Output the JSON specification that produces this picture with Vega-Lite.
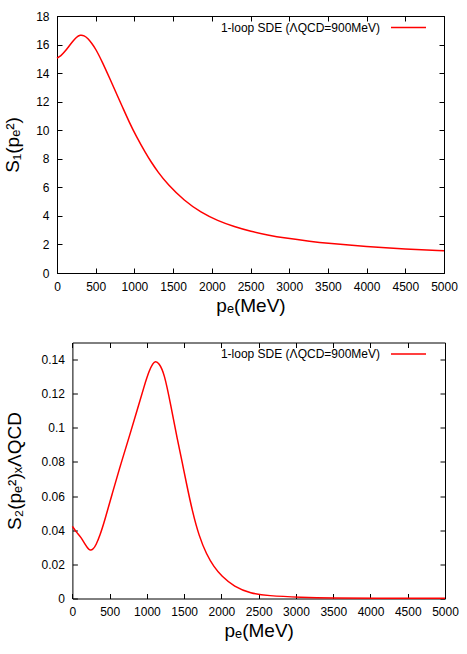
{
  "$schema": "https://vega.github.io/schema/vega-lite/v6.json",
  "padding": {"left": 3, "top": 8, "right": 5, "bottom": 5},
  "spacing": 19.5,
  "config": {
    "font": "Liberation Sans",
    "view": {"stroke": "black", "strokeWidth": 1},
    "axis": {
      "grid": false,
      "domainColor": "black",
      "tickColor": "black",
      "tickSize": 5,
      "tickWidth": 1,
      "labelColor": "black",
      "labelFontSize": 12,
      "labelPadding": 8,
      "titleFontSize": 19,
      "titleFontWeight": "normal",
      "titleColor": "black",
      "labelFlush": false,
      "labelOverlap": false
    },
    "legend": {
      "orient": "none",
      "title": null,
      "symbolType": "stroke",
      "symbolSize": 1225,
      "symbolStrokeWidth": 1.5,
      "labelFontSize": 12,
      "labelColor": "black",
      "labelAlign": "right",
      "labelOffset": -47,
      "padding": 0
    }
  },
  "datasets": {
    "s1": [
      {"p": 0, "s": 15.05}, {"p": 50, "s": 15.2}, {"p": 100, "s": 15.5}, {"p": 150, "s": 15.85},
      {"p": 200, "s": 16.2}, {"p": 250, "s": 16.52}, {"p": 300, "s": 16.68}, {"p": 350, "s": 16.64},
      {"p": 400, "s": 16.42}, {"p": 450, "s": 16.08}, {"p": 500, "s": 15.7}, {"p": 590, "s": 14.73},
      {"p": 676, "s": 13.69}, {"p": 762, "s": 12.64}, {"p": 849, "s": 11.59}, {"p": 934, "s": 10.56},
      {"p": 1021, "s": 9.6}, {"p": 1150, "s": 8.35}, {"p": 1214, "s": 7.8}, {"p": 1300, "s": 7.1},
      {"p": 1430, "s": 6.2}, {"p": 1645, "s": 5.06}, {"p": 1860, "s": 4.24}, {"p": 2076, "s": 3.66},
      {"p": 2291, "s": 3.24}, {"p": 2506, "s": 2.91}, {"p": 2722, "s": 2.66}, {"p": 2937, "s": 2.45},
      {"p": 3282, "s": 2.2}, {"p": 3500, "s": 2.08}, {"p": 4000, "s": 1.85}, {"p": 4500, "s": 1.68},
      {"p": 5000, "s": 1.56}
    ],
    "s2": [
      {"p": 0, "s": 0.0423}, {"p": 50, "s": 0.039}, {"p": 115, "s": 0.036}, {"p": 180, "s": 0.031},
      {"p": 236, "s": 0.0277}, {"p": 280, "s": 0.029}, {"p": 316, "s": 0.0312}, {"p": 370, "s": 0.037},
      {"p": 428, "s": 0.0448}, {"p": 540, "s": 0.0623}, {"p": 651, "s": 0.079}, {"p": 770, "s": 0.0958},
      {"p": 875, "s": 0.1112}, {"p": 964, "s": 0.1246}, {"p": 1031, "s": 0.1336}, {"p": 1080, "s": 0.1378},
      {"p": 1115, "s": 0.1392}, {"p": 1160, "s": 0.138}, {"p": 1232, "s": 0.1323}, {"p": 1322, "s": 0.1129},
      {"p": 1411, "s": 0.0925}, {"p": 1478, "s": 0.0789}, {"p": 1530, "s": 0.0675}, {"p": 1610, "s": 0.051},
      {"p": 1700, "s": 0.0365}, {"p": 1800, "s": 0.0258}, {"p": 1900, "s": 0.0185}, {"p": 2000, "s": 0.0132},
      {"p": 2170, "s": 0.0069}, {"p": 2394, "s": 0.003}, {"p": 2617, "s": 0.0016},
      {"p": 3064, "s": 0.0007}, {"p": 3500, "s": 0.0003}, {"p": 4000, "s": 0.0002}, {"p": 5000, "s": 0.0001}
    ]
  },
  "vconcat": [
    {
      "width": 387,
      "height": 257,
      "data": {"name": "s1"},
      "layer": [
        {
          "mark": {"type": "line", "strokeWidth": 1.5, "interpolate": "basis"},
          "encoding": {
            "x": {"field": "p", "type": "quantitative", "scale": {"domain": [0, 5000], "nice": false},
                  "axis": {"title": "pₑ(MeV)", "orient": "bottom", "format": "d", "ticks": false, "values": [0, 500, 1000, 1500, 2000, 2500, 3000, 3500, 4000, 4500, 5000]}},
            "y": {"field": "s", "type": "quantitative", "scale": {"domain": [0, 18], "nice": false},
                  "axis": {"title": "S₁(pₑ²)", "orient": "left", "titlePadding": 13, "ticks": false, "values": [0, 2, 4, 6, 8, 10, 12, 14, 16, 18]}},
            "color": {"datum": "1-loop SDE (ΛQCD=900MeV)", "type": "nominal", "scale": {"range": ["#ff0000"]},
                      "legend": {"legendX": 333, "legendY": -7}}
          }
        },
        {
          "mark": {"type": "line", "opacity": 0},
          "encoding": {
            "x": {"field": "p", "type": "quantitative", "axis": {"title": null, "orient": "top", "labels": false, "ticks": false}},
            "y": {"field": "s", "type": "quantitative", "axis": {"title": null, "orient": "right", "labels": false, "ticks": false}}
          }
        },
        {
          "mark": {"type": "line", "opacity": 0},
          "encoding": {
            "x": {"field": "p", "type": "quantitative", "axis": {"title": null, "orient": "bottom", "labels": false, "domain": false, "offset": -5, "values": [0, 500, 1000, 1500, 2000, 2500, 3000, 3500, 4000, 4500, 5000]}},
            "y": {"field": "s", "type": "quantitative", "axis": {"title": null, "orient": "left", "labels": false, "domain": false, "offset": -5, "values": [0, 2, 4, 6, 8, 10, 12, 14, 16, 18]}}
          }
        },
        {
          "mark": {"type": "line", "opacity": 0},
          "encoding": {
            "x": {"field": "p", "type": "quantitative", "axis": {"title": null, "orient": "top", "labels": false, "domain": false, "offset": -5, "values": [0, 500, 1000, 1500, 2000, 2500, 3000, 3500, 4000, 4500, 5000]}},
            "y": {"field": "s", "type": "quantitative", "axis": {"title": null, "orient": "right", "labels": false, "domain": false, "offset": -5, "values": [0, 2, 4, 6, 8, 10, 12, 14, 16, 18]}}
          }
        }
      ],
      "resolve": {"axis": {"x": "independent", "y": "independent"}}
    },
    {
      "width": 388,
      "height": 256,
      "view": {"stroke": null},
      "data": {"name": "s2"},
      "layer": [
        {
          "mark": {"type": "line", "strokeWidth": 1.5, "interpolate": "basis"},
          "encoding": {
            "x": {"field": "p", "type": "quantitative", "scale": {"domain": [0, 5000], "nice": false, "range": [15.4, 388]},
                  "axis": {"title": "pₑ(MeV)", "orient": "bottom", "format": "d", "ticks": false, "values": [0, 500, 1000, 1500, 2000, 2500, 3000, 3500, 4000, 4500, 5000]}},
            "y": {"field": "s", "type": "quantitative", "scale": {"domain": [0, 0.15], "nice": false},
                  "axis": {"title": "S₂(pₑ²)ₓΛQCD", "orient": "left", "format": "~g", "titlePadding": 17, "offset": -15.4, "ticks": false, "values": [0, 0.02, 0.04, 0.06, 0.08, 0.1, 0.12, 0.14]}},
            "color": {"datum": "1-loop SDE (ΛQCD=900MeV)", "type": "nominal", "scale": {"range": ["#ff0000"]},
                      "legend": {"legendX": 333, "legendY": -7}}
          }
        },
        {
          "mark": {"type": "line", "opacity": 0},
          "encoding": {
            "x": {"field": "p", "type": "quantitative", "axis": {"title": null, "orient": "top", "labels": false, "ticks": false}},
            "y": {"field": "s", "type": "quantitative", "axis": {"title": null, "orient": "right", "labels": false, "ticks": false}}
          }
        },
        {
          "mark": {"type": "line", "opacity": 0},
          "encoding": {
            "x": {"field": "p", "type": "quantitative", "axis": {"title": null, "orient": "bottom", "labels": false, "domain": false, "offset": -5, "values": [0, 500, 1000, 1500, 2000, 2500, 3000, 3500, 4000, 4500, 5000]}},
            "y": {"field": "s", "type": "quantitative", "axis": {"title": null, "orient": "left", "labels": false, "domain": false, "offset": -20.4, "values": [0, 0.02, 0.04, 0.06, 0.08, 0.1, 0.12, 0.14]}}
          }
        },
        {
          "mark": {"type": "line", "opacity": 0},
          "encoding": {
            "x": {"field": "p", "type": "quantitative", "axis": {"title": null, "orient": "top", "labels": false, "domain": false, "offset": -5, "values": [0, 500, 1000, 1500, 2000, 2500, 3000, 3500, 4000, 4500, 5000]}},
            "y": {"field": "s", "type": "quantitative", "axis": {"title": null, "orient": "right", "labels": false, "domain": false, "offset": -5, "values": [0, 0.02, 0.04, 0.06, 0.08, 0.1, 0.12, 0.14]}}
          }
        }
      ],
      "resolve": {"axis": {"x": "independent", "y": "independent"}}
    }
  ],
  "resolve": {"scale": {"color": "independent"}}
}
